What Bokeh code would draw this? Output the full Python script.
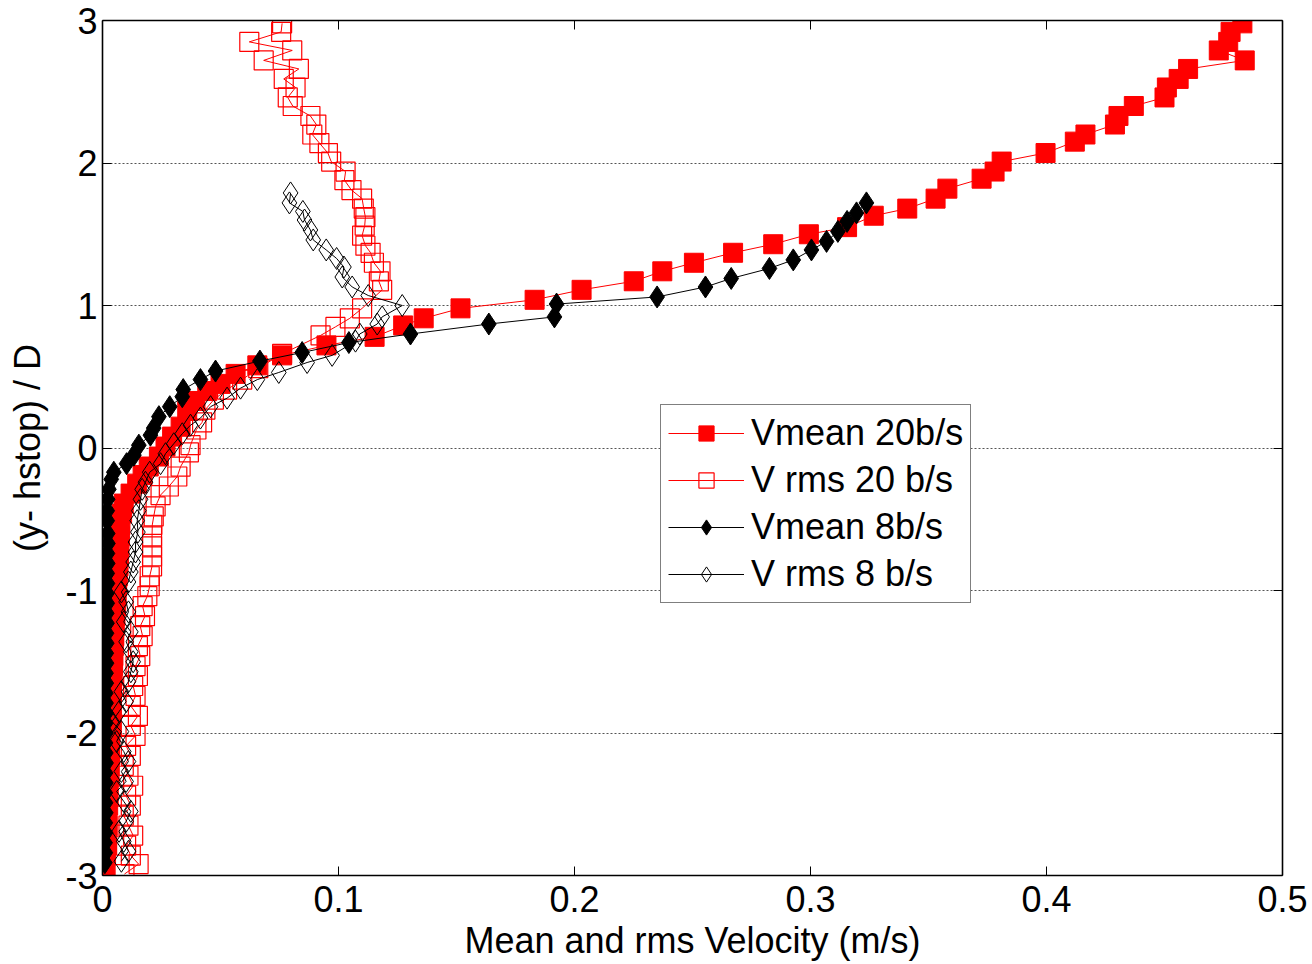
from bokeh.plotting import figure
from bokeh.models import (Range1d, LinearAxis, FixedTicker, Legend, LegendItem,
                          CustomLabelingPolicy)
from bokeh.embed import file_html
from bokeh.resources import INLINE

FONT = "Liberation Sans"

# ---------------- data ----------------
x_ticks = [0, 0.1, 0.2, 0.3, 0.4, 0.5]
x_tick_labels = ["0", "0.1", "0.2", "0.3", "0.4", "0.5"]
y_ticks = [-3, -2, -1, 0, 1, 2, 3]
y_tick_labels = ["-3", "-2", "-1", "0", "1", "2", "3"]
grid_y = [-2, -1, 0, 1, 2]

labels = ["Vmean 20b/s", "V rms 20 b/s", "Vmean 8b/s", "V rms 8 b/s"]

# Vmean 20 b/s
y_vm20 = [-3.00, -2.93, -2.86, -2.79, -2.72, -2.65, -2.58, -2.51, -2.44, -2.37,
          -2.30, -2.23, -2.16, -2.09, -2.02, -1.95, -1.88, -1.81, -1.74, -1.67,
          -1.60, -1.53, -1.46, -1.39, -1.32, -1.25, -1.18, -1.11, -1.04, -0.97,
          -0.90, -0.83, -0.76, -0.69, -0.62,
          -0.54, -0.46, -0.39, -0.32, -0.25, -0.19, -0.13, -0.06, 0.01, 0.08,
          0.15, 0.26, 0.33, 0.40, 0.45, 0.52, 0.58, 0.65, 0.72, 0.78,
          0.86, 0.91, 0.98, 1.04, 1.11, 1.17, 1.24, 1.30, 1.37, 1.43,
          1.50, 1.55, 1.63, 1.68, 1.75, 1.82, 1.89, 1.94, 2.01, 2.07,
          2.15, 2.20, 2.27, 2.33, 2.40, 2.46, 2.53, 2.59, 2.66, 2.72,
          2.79, 2.85, 2.92, 2.98]
x_vm20 = [0.0005, 0.0012, 0.0015, 0.0018, 0.0020, 0.0022, 0.0020, 0.0024, 0.0026, 0.0025,
          0.0028, 0.0030, 0.0032, 0.0031, 0.0034, 0.0036, 0.0035, 0.0038, 0.0040, 0.0041,
          0.0043, 0.0045, 0.0046, 0.0048, 0.0050, 0.0052, 0.0055, 0.0058, 0.0060, 0.0062,
          0.0065, 0.0068, 0.0070, 0.0072, 0.0074,
          0.0076, 0.0083, 0.0090, 0.0119, 0.0147, 0.0170, 0.0196, 0.0239, 0.0267, 0.0295,
          0.0331, 0.0359, 0.0394, 0.0444, 0.0500, 0.0564, 0.0656, 0.0761, 0.0949, 0.1153,
          0.1274, 0.1361, 0.1517, 0.1831, 0.2030, 0.2251, 0.2372, 0.2506, 0.2672, 0.2842,
          0.2993, 0.3155, 0.3268, 0.3410, 0.3530, 0.3580, 0.3725, 0.3780, 0.3810, 0.3996,
          0.4120, 0.4165, 0.4290, 0.4305, 0.4370, 0.4500, 0.4510, 0.4560, 0.4600, 0.4840,
          0.4730, 0.4770, 0.4780, 0.4830]

# V rms 20 b/s
y_vr20 = [-2.99, -2.92, -2.86, -2.79, -2.72, -2.65, -2.58, -2.51, -2.44, -2.37,
          -2.30, -2.23, -2.16, -2.09, -2.02, -1.95, -1.88, -1.81, -1.74, -1.67,
          -1.60, -1.53, -1.46, -1.39, -1.32, -1.25, -1.18, -1.11, -1.04, -0.97,
          -0.90, -0.83, -0.76, -0.69, -0.62,
          -0.54, -0.48, -0.41, -0.33, -0.27, -0.20, -0.13, -0.03, 0.02, 0.13,
          0.18, 0.27, 0.34, 0.41, 0.48, 0.56, 0.66, 0.79, 0.85, 0.91,
          0.98, 1.11, 1.17, 1.24, 1.30, 1.37, 1.42, 1.49, 1.56, 1.62,
          1.68, 1.75, 1.81, 1.88, 1.94, 2.01, 2.07, 2.14, 2.20, 2.27,
          2.33, 2.40, 2.46, 2.53, 2.59, 2.66, 2.72, 2.79, 2.85, 2.92,
          2.98]
x_vr20 = [0.0093, 0.0153, 0.0120, 0.0100, 0.0130, 0.0110, 0.0090, 0.0120, 0.0100, 0.0130,
          0.0110, 0.0090, 0.0120, 0.0100, 0.0140, 0.0120, 0.0150, 0.0120, 0.0140, 0.0130,
          0.0150, 0.0140, 0.0160, 0.0150, 0.0170, 0.0160, 0.0180, 0.0170, 0.0190, 0.0200,
          0.0200, 0.0210, 0.0210, 0.0210, 0.0210,
          0.0211, 0.0217, 0.0225, 0.0246, 0.0281, 0.0317, 0.0331, 0.0366, 0.0373, 0.0398,
          0.0422, 0.0436, 0.0472, 0.0528, 0.0592, 0.0660, 0.0761, 0.0924, 0.0987, 0.1048,
          0.1100, 0.1185, 0.1171, 0.1178, 0.1150, 0.1136, 0.1114, 0.1100, 0.1111, 0.1114,
          0.1107, 0.1100, 0.1055, 0.1025, 0.1030, 0.0969, 0.0955, 0.0919, 0.0889, 0.0906,
          0.0881, 0.0806, 0.0785, 0.0818, 0.0768, 0.0832, 0.0683, 0.0804, 0.0622, 0.0757,
          0.0761]

# Vmean 8 b/s
y_vm8 = [-2.91, -2.84, -2.77, -2.70, -2.63, -2.56, -2.49, -2.42, -2.35, -2.28,
         -2.21, -2.14, -2.07, -2.00, -1.93, -1.86, -1.79, -1.72, -1.65, -1.58,
         -1.51, -1.44, -1.37, -1.30, -1.23, -1.16, -1.09, -1.02, -0.95, -0.88,
         -0.81, -0.74, -0.67, -0.60,
         -0.51, -0.44, -0.36, -0.29, -0.22, -0.17, -0.11, -0.05, 0.02, 0.09,
         0.14, 0.22, 0.29, 0.36, 0.41, 0.48, 0.54, 0.61, 0.67, 0.74,
         0.80, 0.87, 0.92, 1.01, 1.06, 1.13, 1.19, 1.26, 1.32, 1.39,
         1.45, 1.52, 1.59, 1.65, 1.72]
x_vm8 = [0.0010, 0.0012, 0.0011, 0.0013, 0.0012, 0.0014, 0.0013, 0.0012, 0.0014, 0.0013,
         0.0015, 0.0014, 0.0013, 0.0015, 0.0014, 0.0016, 0.0015, 0.0014, 0.0016, 0.0015,
         0.0017, 0.0016, 0.0018, 0.0017, 0.0019, 0.0018, 0.0020, 0.0019, 0.0021, 0.0020,
         0.0022, 0.0021, 0.0023, 0.0022,
         0.0020, 0.0020, 0.0022, 0.0027, 0.0037, 0.0048, 0.0102, 0.0133, 0.0154, 0.0203,
         0.0217, 0.0239, 0.0285, 0.0338, 0.0342, 0.0415, 0.0479, 0.0667, 0.0846, 0.1044,
         0.1305, 0.1637, 0.1915, 0.1924, 0.2350, 0.2555, 0.2664, 0.2826, 0.2927, 0.3004,
         0.3068, 0.3116, 0.3155, 0.3195, 0.3237]

# V rms 8 b/s
y_vr8 = [-2.90, -2.83, -2.76, -2.69, -2.62, -2.55, -2.48, -2.41, -2.34, -2.27,
         -2.20, -2.13, -2.06, -1.99, -1.92, -1.85, -1.78, -1.71, -1.64, -1.57,
         -1.50, -1.43, -1.36, -1.29, -1.22, -1.15, -1.08, -1.01, -0.94, -0.87,
         -0.80, -0.73, -0.66, -0.59,
         -0.51, -0.44, -0.36, -0.29, -0.24, -0.17, -0.11, -0.04, 0.03, 0.10,
         0.16, 0.21, 0.29, 0.35, 0.42, 0.48, 0.53, 0.60, 0.65, 0.75,
         0.80, 0.87, 0.92, 1.00, 1.07, 1.13, 1.20, 1.27, 1.33, 1.39,
         1.46, 1.53, 1.60, 1.66, 1.72, 1.79]
x_vr8 = [0.008, 0.011, 0.009, 0.007, 0.010, 0.012, 0.009, 0.006, 0.010, 0.008,
         0.011, 0.009, 0.006, 0.008, 0.004, 0.007, 0.010, 0.008, 0.011, 0.012,
         0.013, 0.012, 0.010, 0.012, 0.009, 0.011, 0.010, 0.008, 0.011, 0.012,
         0.013, 0.014, 0.014, 0.015,
         0.0147, 0.0154, 0.0161, 0.0168, 0.0182, 0.0200, 0.0246, 0.0267, 0.0302, 0.0338,
         0.0373, 0.0415, 0.0458, 0.0528, 0.0585, 0.0656, 0.0747, 0.0867, 0.0973, 0.1072,
         0.1090, 0.1164, 0.1185, 0.1270, 0.1126, 0.1058, 0.1016, 0.1023, 0.0992, 0.0948,
         0.0893, 0.0881, 0.0856, 0.0849, 0.0792, 0.0797]

# ---------------- figure ----------------
p = figure(width=1310, height=963,
           x_range=Range1d(0, 0.5), y_range=Range1d(-3, 3),
           output_backend="svg", toolbar_location=None,
           min_border_left=102, min_border_top=20,
           min_border_right=28, min_border_bottom=87)
p.outline_line_color = None
p.background_fill_color = "white"

no_labels = CustomLabelingPolicy(code="return new Set()")

def style_axis(ax, ticks, labs, show_labels=True):
    ax.ticker = FixedTicker(ticks=ticks)
    ax.major_tick_in = 9
    ax.major_tick_out = 0
    ax.minor_tick_line_color = None
    ax.axis_line_color = "black"
    ax.axis_line_width = 1.6
    ax.major_tick_line_color = "black"
    ax.major_tick_line_width = 1
    if show_labels:
        ax.major_label_overrides = {t: l for t, l in zip(ticks, labs)}
        ax.major_label_text_font = FONT
        ax.major_label_text_color = "black"
        ax.major_label_text_font_size = "36px"
    else:
        ax.major_label_policy = no_labels
        ax.major_label_standoff = 0

style_axis(p.xaxis[0], x_ticks, x_tick_labels)
style_axis(p.yaxis[0], y_ticks, y_tick_labels)
p.xaxis.major_label_standoff = 10
p.yaxis.major_label_standoff = 5
p.xaxis.axis_label = "Mean and rms Velocity (m/s)"
p.yaxis.axis_label = "(y- hstop) / D"
for ax in (p.xaxis[0], p.yaxis[0]):
    ax.axis_label_text_font = FONT
    ax.axis_label_text_font_size = "36px"
    ax.axis_label_text_font_style = "normal"
    ax.axis_label_text_color = "black"
p.xaxis.axis_label_standoff = 5
p.yaxis.axis_label_standoff = 14

top_ax = LinearAxis()
style_axis(top_ax, x_ticks, x_tick_labels, show_labels=False)
p.add_layout(top_ax, "above")
right_ax = LinearAxis()
style_axis(right_ax, y_ticks, y_tick_labels, show_labels=False)
p.add_layout(right_ax, "right")

p.xgrid.grid_line_color = None
p.ygrid.ticker = FixedTicker(ticks=grid_y)
p.ygrid.grid_line_color = "#555555"
p.ygrid.grid_line_dash = "2 2"
p.ygrid.grid_line_width = 1

# ---------------- series ----------------
items = []
l1 = p.line(x_vm20, y_vm20, line_color="red", line_width=1)
m1 = p.scatter(x_vm20, y_vm20, marker="square", size=19,
               fill_color="red", line_color="red", line_width=1)
items.append(LegendItem(label=labels[0], renderers=[l1, m1]))

l2 = p.line(x_vr20, y_vr20, line_color="red", line_width=1)
m2 = p.scatter(x_vr20, y_vr20, marker="square", size=19,
               fill_color=None, line_color="red", line_width=1.2)
items.append(LegendItem(label=labels[1], renderers=[l2, m2]))

l3 = p.line(x_vm8, y_vm8, line_color="black", line_width=1)
m3 = p.scatter(x_vm8, y_vm8, marker="diamond", size=22,
               fill_color="black", line_color="black", line_width=1)
items.append(LegendItem(label=labels[2], renderers=[l3, m3]))

l4 = p.line(x_vr8, y_vr8, line_color="black", line_width=1)
m4 = p.scatter(x_vr8, y_vr8, marker="diamond", size=22,
               fill_color=None, line_color="black", line_width=1)
items.append(LegendItem(label=labels[3], renderers=[l4, m4]))

legend = Legend(items=items, location=(558, 272),
                label_text_font=FONT, label_text_font_size="36px",
                label_text_color="black",
                glyph_width=76, glyph_height=38, label_height=40,
                label_standoff=7, spacing=5, padding=7, margin=0,
                border_line_color="black", border_line_width=1,
                background_fill_color="white", background_fill_alpha=1)
p.add_layout(legend)

open("out.html", "w").write(file_html(p, INLINE))
